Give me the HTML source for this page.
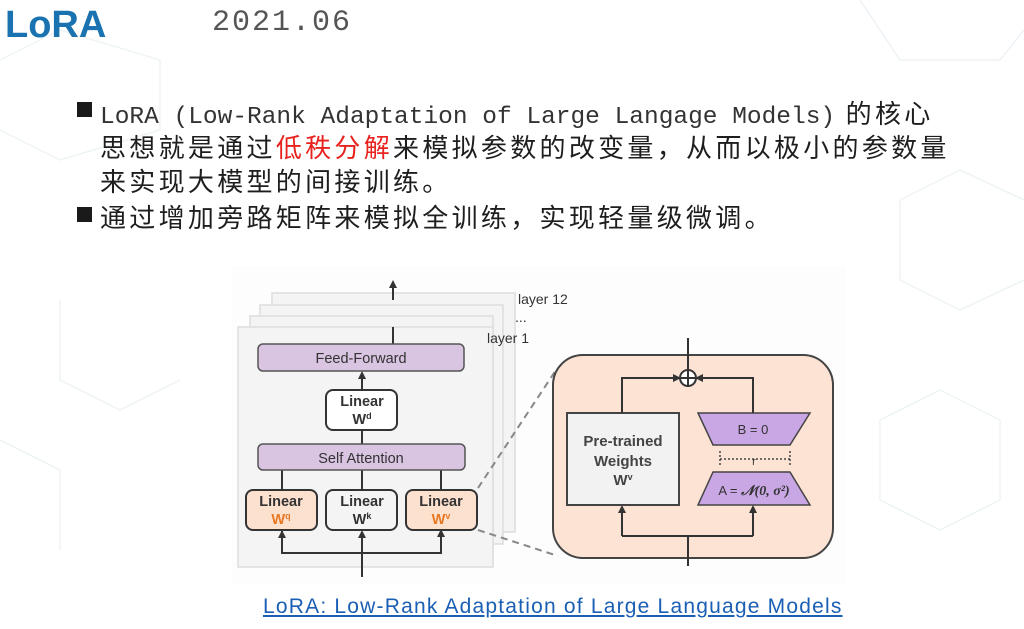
<!DOCTYPE html>
<html><head><meta charset="utf-8"><style>
body{margin:0;width:1024px;height:629px;overflow:hidden;background:#fff;position:relative;font-family:"Liberation Sans","Noto Sans CJK SC",sans-serif}
.a{position:absolute;white-space:nowrap}
.cn{font-family:"Liberation Sans","Noto Sans CJK SC",sans-serif;font-size:26px;letter-spacing:3.3px;color:#1e1e1e;font-weight:normal}
.mono{font-family:"Liberation Mono","Noto Sans CJK SC",monospace;font-size:24.5px;letter-spacing:0;color:#333}
.sq{position:absolute;width:15px;height:15px;background:#1a1a1a}
</style></head><body>
<svg class="a" style="left:0;top:0" width="1024" height="629">
<g fill="none" stroke="#eef3f6" stroke-width="1.5">
<path d="M0 60 L60 30 L160 60 L160 130 L60 160 L0 130"/>
<path d="M860 0 L900 60 L1000 60 L1024 30"/>
<path d="M900 200 L960 170 L1024 200 M900 200 L900 280 L960 310 L1024 280"/>
<path d="M60 300 L60 380 L120 410 L180 380 M0 440 L60 470 L60 550"/>
<path d="M880 420 L940 390 L1000 420 L1000 500 L940 530 L880 500Z"/>
</g>
</svg>
<div class="a" style="left:5px;top:4px;font-size:38px;font-weight:bold;color:#1a73b0">LoRA</div>
<div class="a" style="left:212px;top:6px;font-size:30px;font-family:'Liberation Mono',monospace;letter-spacing:2px;color:#555">2021.06</div>
<div class="sq" style="left:77px;top:102px"></div>
<div class="a" style="left:100px;top:94px"><span class="mono">LoRA (Low-Rank Adaptation of Large Langage Models)</span><span class="cn"> 的核心</span></div>
<div class="a cn" style="left:100px;top:128px">思想就是通过<span style="color:#e8231f">低秩分解</span>来模拟参数的改变量，从而以极小的参数量</div>
<div class="a cn" style="left:100px;top:162px">来实现大模型的间接训练。</div>
<div class="sq" style="left:77px;top:207px"></div>
<div class="a cn" style="left:100px;top:198px">通过增加旁路矩阵来模拟全训练，实现轻量级微调。</div>

<svg class="a" style="left:0;top:0" width="1024" height="629" font-family="Liberation Sans,sans-serif">
<defs><marker id="ar" markerWidth="8" markerHeight="8" refX="6" refY="4" orient="auto" markerUnits="userSpaceOnUse"><path d="M0 0 L8 4 L0 8Z" fill="#333"/></marker></defs>
<rect x="232" y="266" width="614" height="318" fill="#fdfdfd"/>
<g fill="#f4f4f4" stroke="#ddd" stroke-width="1.5">
<rect x="272" y="293" width="243" height="239"/>
<rect x="260" y="305" width="243" height="239"/>
<rect x="250" y="316" width="243" height="239"/>
<rect x="238" y="327" width="255" height="240"/>
</g>
<g stroke="#333" stroke-width="2" fill="none">
<line x1="393" y1="300" x2="393" y2="282" marker-end="url(#ar)"/>
<line x1="393" y1="327" x2="393" y2="344"/>
<line x1="362" y1="390" x2="362" y2="373" marker-end="url(#ar)"/>
<line x1="362" y1="430" x2="362" y2="444"/>
<line x1="282" y1="470" x2="282" y2="490"/><line x1="362" y1="470" x2="362" y2="490"/><line x1="441" y1="470" x2="441" y2="490"/>
<path d="M282 531 V553 H441 V531" marker-end="url(#ar)"/>
<line x1="282" y1="553" x2="282" y2="532" marker-end="url(#ar)"/>
<line x1="362" y1="577" x2="362" y2="532" marker-end="url(#ar)"/>
</g>
<g stroke="#555" stroke-width="1.5">
<rect x="258" y="344" width="206" height="27" rx="5" fill="#d9c4e2"/>
<rect x="258" y="444" width="207" height="26" rx="5" fill="#d9c4e2"/>
</g>
<g stroke="#333" stroke-width="2">
<rect x="326" y="390" width="71" height="40" rx="7" fill="#fff"/>
<rect x="246" y="490" width="71" height="40" rx="7" fill="#fde1cf"/>
<rect x="326" y="490" width="71" height="40" rx="7" fill="#f4f4f4"/>
<rect x="406" y="490" width="71" height="40" rx="7" fill="#fde1cf"/>
</g>
<g font-size="14.5" fill="#333" text-anchor="middle">
<text x="361" y="363">Feed-Forward</text>
<text x="361" y="463">Self Attention</text>
<text x="362" y="406" font-weight="bold">Linear</text><text x="362" y="424" font-weight="bold">W<tspan font-size="9" dy="-5">d</tspan></text>
<text x="281" y="506" font-weight="bold">Linear</text><text x="281" y="524" font-weight="bold" fill="#e87722">W<tspan font-size="9" dy="-5">q</tspan></text>
<text x="362" y="506" font-weight="bold">Linear</text><text x="362" y="524" font-weight="bold">W<tspan font-size="9" dy="-5">k</tspan></text>
<text x="441" y="506" font-weight="bold">Linear</text><text x="441" y="524" font-weight="bold" fill="#e87722">W<tspan font-size="9" dy="-5">v</tspan></text>
</g>
<g font-size="14" fill="#333">
<text x="518" y="304">layer 12</text><text x="515" y="322">...</text><text x="487" y="343">layer 1</text>
</g>
<g stroke="#888" stroke-width="2" stroke-dasharray="7,5" fill="none">
<line x1="478" y1="488" x2="556" y2="370"/><line x1="478" y1="530" x2="558" y2="556"/>
</g>
<rect x="553" y="355" width="280" height="203" rx="30" fill="#fde3d3" stroke="#444" stroke-width="2"/>
<rect x="567" y="413" width="112" height="92" fill="#f2f2f2" stroke="#444" stroke-width="2"/>
<path d="M698 413 H810 L790 445 H713Z" fill="#c9a6e4" stroke="#444" stroke-width="1.5"/>
<path d="M713 472 H790 L810 505 H698Z" fill="#c9a6e4" stroke="#444" stroke-width="1.5"/>
<g stroke="#444" stroke-width="1.5" stroke-dasharray="2,2" fill="none">
<line x1="720" y1="459" x2="790" y2="459"/><line x1="720" y1="451" x2="720" y2="467"/><line x1="790" y1="451" x2="790" y2="467"/>
</g>
<g stroke="#333" stroke-width="2" fill="none">
<line x1="688" y1="338" x2="688" y2="371"/>
<path d="M622 413 V378 H679" marker-end="url(#ar)"/>
<path d="M753 413 V378 H697" marker-end="url(#ar)"/>
<line x1="688" y1="566" x2="688" y2="536"/>
<path d="M622 536 H753"/>
<line x1="622" y1="536" x2="622" y2="507" marker-end="url(#ar)"/>
<line x1="753" y1="536" x2="753" y2="507" marker-end="url(#ar)"/>
<circle cx="688" cy="378" r="8" fill="#fff"/>
<line x1="680" y1="378" x2="696" y2="378"/><line x1="688" y1="370" x2="688" y2="386"/>
</g>
<g font-size="15" fill="#444" text-anchor="middle" font-weight="bold">
<text x="623" y="446">Pre-trained</text><text x="623" y="466">Weights</text><text x="623" y="485">W<tspan font-size="9" dy="-5">v</tspan></text>
</g>
<text x="753" y="434" font-size="13" fill="#333" text-anchor="middle">B = 0</text>
<text x="754" y="465" font-size="11" fill="#333" text-anchor="middle">r</text>
<text x="754" y="495" font-size="13" fill="#333" text-anchor="middle">A = <tspan font-family="Liberation Serif,serif" font-weight="bold" font-style="italic" font-size="14">𝒩(0, σ²)</tspan></text>
</svg>
<div class="a" style="left:263px;top:595px;font-size:21px;letter-spacing:1.2px;color:#1a5fb4;text-decoration:underline">LoRA: Low-Rank Adaptation of Large Language Models</div>
</body></html>
